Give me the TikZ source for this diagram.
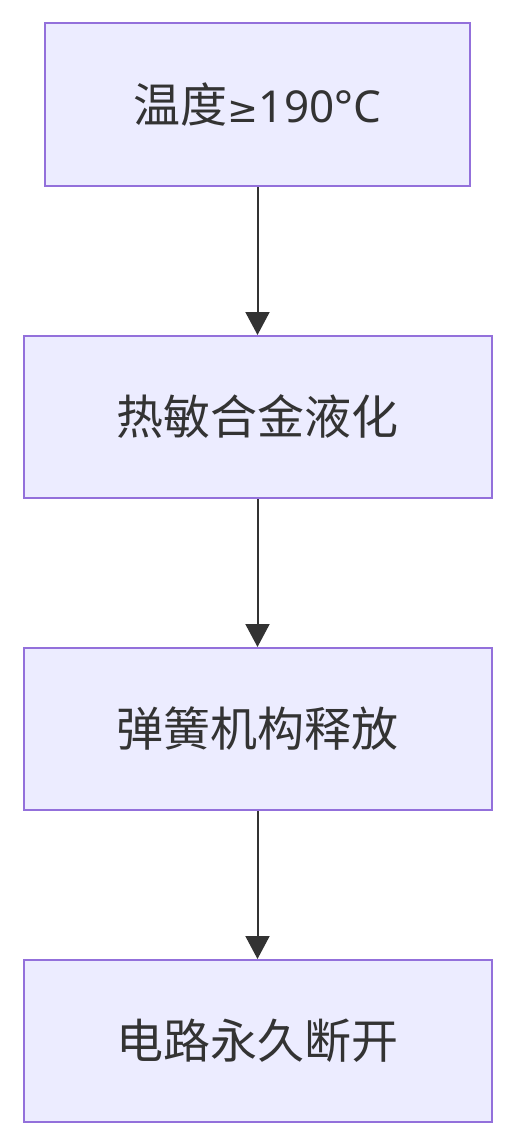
\documentclass[tikz,border=0pt]{standalone}
\usepackage{fontspec}
\setmainfont{Noto Sans CJK SC}
\newfontfamily\latinfont{Noto Sans}
\newfontfamily\symfont{DejaVu Sans}
\usetikzlibrary{arrows.meta,positioning}
\definecolor{boxfill}{RGB}{236,236,255}
\definecolor{boxborder}{RGB}{147,112,219}
\definecolor{arrowgray}{RGB}{51,51,51}
\definecolor{textgray}{RGB}{51,51,51}

\begin{document}
\begin{tikzpicture}[
    x=1pt, y=1pt,
    box/.style={draw=boxborder, line width=2pt, fill=boxfill, text=textgray,
                minimum width=468pt, minimum height=162pt, inner sep=0pt,
                align=center, font=\fontsize{47pt}{54pt}\selectfont},
    arrow/.style={draw=arrowgray, line width=2pt, -{Triangle[length=23pt,width=24pt]}}
]

\useasboundingbox (0,0) rectangle (516,-1146);

% Main flow
\node[box, minimum width=425pt, minimum height=163pt] (temp) at (257.5,-104.5) {温度{\symfont\fontsize{37pt}{44pt}\selectfont ≥}{\latinfont\fontsize{44pt}{50pt}\selectfont 190°C}};
\node[box, below=148pt of temp] (alloy) {热敏合金液化};
\node[box, below=148pt of alloy] (spring) {弹簧机构释放};
\node[box, below=148pt of spring] (circuit) {电路永久断开};

% Connect main flow with arrows
\draw[arrow] (temp) -- (alloy);
\draw[arrow] (alloy) -- (spring);
\draw[arrow] (spring) -- (circuit);

\end{tikzpicture}
\end{document}
